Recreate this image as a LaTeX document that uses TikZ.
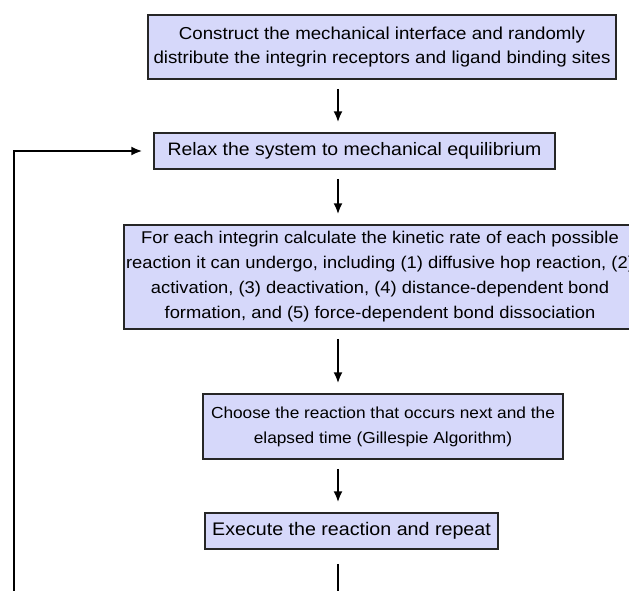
\documentclass[tikz,border=0pt]{standalone}
\usepackage{fontspec}
\setmainfont[FakeStretch=1.08]{Liberation Sans}
\usetikzlibrary{arrows.meta,shapes}
\usetikzlibrary{calc}

\definecolor{boxfill}{RGB}{214,216,250}
\tikzset{
	stepbox/.style={draw=black!85, line width=1.5pt, fill=boxfill, align=center, inner sep=0pt,
		font=\fontsize{17}{25}\selectfont},
	flow/.style={line width=2pt, -{Latex[length=11pt,width=9pt]}, shorten <=9pt, shorten >=10pt},
}

\begin{document}
\begin{tikzpicture}[x=1pt, y=-1pt]
	\useasboundingbox (0,0) rectangle (629,590);
	\coordinate (axis) at (338,0);
	\node[stepbox, font=\fontsize{17.3}{24}\selectfont, minimum width=468pt, minimum height=64pt] (construct) at (382,47)
		{Construct the mechanical interface and randomly\\distribute the integrin receptors and ligand binding sites};
	\node[stepbox, font=\fontsize{18}{25}\selectfont, minimum width=401pt, minimum height=36pt] (relax) at (354.5,151)
		{Relax the system to mechanical equilibrium};
	\node[stepbox, minimum width=512pt, minimum height=104pt] (rates) at (380,277)
		{For each integrin calculate the kinetic rate of each possible\\reaction it can undergo, including (1) diffusive hop reaction, (2)\\activation, (3) deactivation, (4) distance-dependent bond\\formation, and (5) force-dependent bond dissociation};
	\node[stepbox, font=\fontsize{16}{25}\selectfont, minimum width=360pt, minimum height=65pt] (choose) at (383,426.5)
		{Choose the reaction that occurs next and the\\elapsed time (Gillespie Algorithm)};
	\node[stepbox, font=\fontsize{18.2}{25}\selectfont, minimum width=293pt, minimum height=36pt] (execute) at (351.5,531)
		{Execute the reaction and repeat};

	\draw[flow] (construct.south -| axis) -- (relax.north -| axis);
	\draw[flow] (relax.south -| axis) -- (rates.north -| axis);
	\draw[flow] (rates.south -| axis) -- (choose.north -| axis);
	\draw[flow] (choose.south -| axis) -- (execute.north -| axis);

	% loop back to the relaxation step
	\coordinate (bottom) at (338,592);
	\coordinate (corner) at (14,592);
	\draw[line width=2pt, shorten <=14pt] (execute.south -| axis) -- (bottom);
	\draw[line width=2pt, -{Latex[length=11pt,width=9pt]}, shorten >=11pt] (corner) |- (relax.west);
\end{tikzpicture}
\end{document}
